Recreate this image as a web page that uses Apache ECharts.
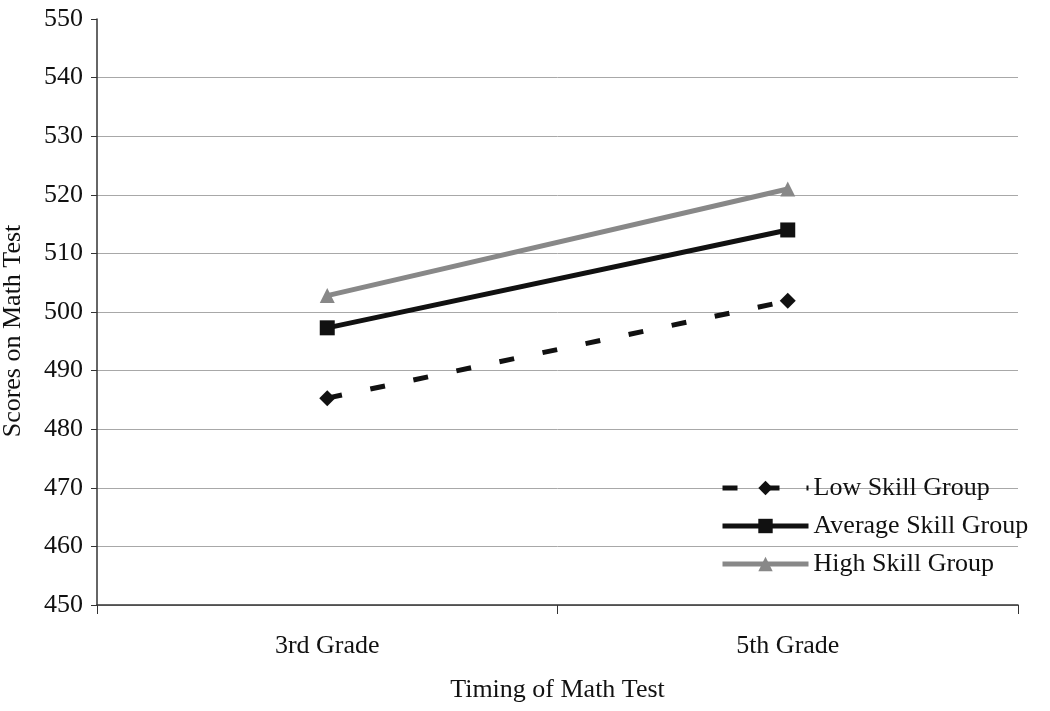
<!DOCTYPE html>
<html><head><meta charset="utf-8">
<script src="https://cdn.jsdelivr.net/npm/echarts@6/dist/echarts.min.js"></script>
<style>html,body{margin:0;padding:0;background:#fff}#c{width:1050px;height:711px}</style>
</head><body><div id="c"></div>
<script>
const categories = ['3rd Grade', '5th Grade'];
const lowSkill = [485.3, 501.9];
const averageSkill = [497.3, 514.0];
const highSkill = [502.8, 521.0];
const seriesNames = ['Low Skill Group', 'Average Skill Group', 'High Skill Group'];

const font = "'Liberation Serif', serif";
const fs = 26;
const chart = echarts.init(document.getElementById('c'), null, {renderer: 'canvas'});
chart.setOption({
  backgroundColor: '#fff',
  animation: false,
  textStyle: {fontFamily: font},
  grid: {left: 97, right: 32, top: 19, bottom: 106, containLabel: false, outerBoundsMode: 'none'},
  legend: {
    orient: 'vertical', left: 720, top: 475, itemGap: 12, padding: 0,
    itemWidth: 86, itemHeight: 18,
    textStyle: {fontFamily: font, fontSize: fs, color: '#111'},
    data: [
      {name: seriesNames[0], lineStyle: {width: 5, type: [15, 27]}},
      {name: seriesNames[1], lineStyle: {width: 5}},
      {name: seriesNames[2], lineStyle: {width: 5}}
    ]
  },
  xAxis: {
    type: 'category', data: categories, boundaryGap: true,
    name: 'Timing of Math Test', nameLocation: 'middle', nameGap: 72,
    nameTextStyle: {fontFamily: font, fontSize: fs, color: '#111'},
    axisLine: {lineStyle: {color: '#333', width: 1.5}},
    axisTick: {show: true, length: 9, alignWithLabel: false, lineStyle: {color: '#333'}},
    axisLabel: {fontFamily: font, fontSize: fs, color: '#111', margin: 28}
  },
  yAxis: {
    type: 'value', min: 450, max: 550, interval: 10,
    name: 'Scores on Math Test', nameLocation: 'middle', nameGap: 71,
    nameTextStyle: {fontFamily: font, fontSize: fs, color: '#111', padding: [0, 38, 0, 0]},
    axisLine: {show: true, lineStyle: {color: '#333', width: 1.5}},
    axisTick: {show: true, length: 6, inside: false, lineStyle: {color: '#333'}},
    axisLabel: {
      margin: 14,
      formatter: v => '{t|' + v + '}',
      rich: {t: {fontFamily: 'Liberation Serif', fontSize: fs, color: '#111'}}
    },
    splitLine: {show: true, showMaxLine: false, lineStyle: {color: '#a8a8a8', width: 1}}
  },
  series: [
    {
      name: seriesNames[0], type: 'line', data: lowSkill,
      symbol: 'diamond', symbolSize: 16,
      lineStyle: {color: '#111', width: 5, type: [15, 29]},
      itemStyle: {color: '#111'}
    },
    {
      name: seriesNames[1], type: 'line', data: averageSkill,
      symbol: 'rect', symbolSize: 15,
      lineStyle: {color: '#111', width: 5},
      itemStyle: {color: '#111'}
    },
    {
      name: seriesNames[2], type: 'line', data: highSkill,
      symbol: 'triangle', symbolSize: 15,
      lineStyle: {color: '#888', width: 5},
      itemStyle: {color: '#888'}
    }
  ]
});
</script></body></html>
